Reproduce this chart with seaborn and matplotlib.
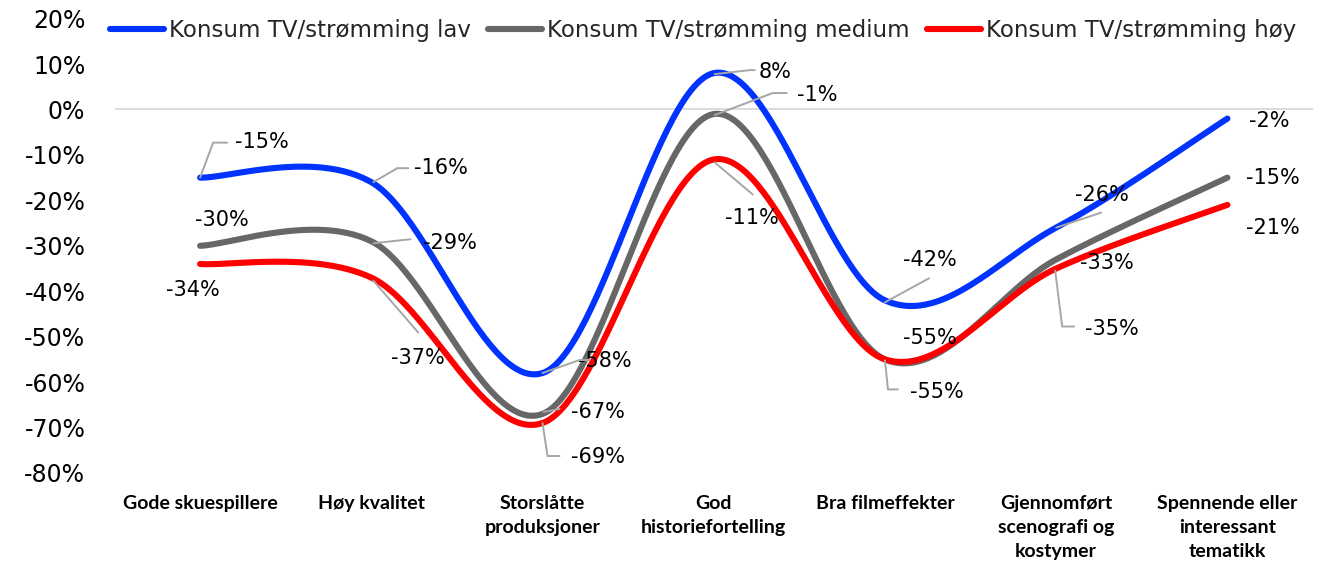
import numpy as np
import pandas as pd
import matplotlib
matplotlib.use("Agg")
import matplotlib.pyplot as plt
from matplotlib.lines import Line2D
from matplotlib.transforms import IdentityTransform
import seaborn as sns

# ---- data -------------------------------------------------------------
categories = [
    "Gode skuespillere",
    "Høy kvalitet",
    "Storslåtte\nproduksjoner",
    "God\nhistoriefortelling",
    "Bra filmeffekter",
    "Gjennomført\nscenografi og\nkostymer",
    "Spennende eller\ninteressant\ntematikk",
]
series_names = [
    "Konsum TV/strømming lav",
    "Konsum TV/strømming medium",
    "Konsum TV/strømming høy",
]
lav = [-15, -16, -58, 8, -42, -26, -2]
medium = [-30, -29, -67, -1, -55, -33, -15]
hoy = [-34, -37, -69, -11, -55, -35, -21]
y_ticks = [20, 10, 0, -10, -20, -30, -40, -50, -60, -70, -80]

series_values = [lav, medium, hoy]
colors = ["#0033FF", "#676767", "#FF0000"]

# label placement: (text offset), [leader vertices] in pixels, y downwards
label_layout = [
    [  # lav
        ((62, -36), [(0, 0), (13, -35), (27, -35)]),
        ((70, -14), [(2, 0), (26, -14), (37, -14)]),
        ((62, -12), [(0, 0), (37, -13), (47, -13)]),
        ((61, -1), [(1, 1), (36, -3), (41, -3)]),
        ((45, -40), [(0, 2), (44, -22)]),
        ((46, -33), [(0, 0), (45, -15)]),
        ((42, 2), None),
    ],
    [  # medium
        ((22, -26), None),
        ((79, 2), [(2, 2), (39, -2)]),
        ((55, -2), [(1, -2), (17, -5)]),
        ((103, -19), [(1, 1), (59, -21), (73, -21)]),
        ((45, -21), None),
        ((51, 4), None),
        ((45, 0), None),
    ],
    [  # høy
        ((-7, 26), None),
        ((47, 80), [(2, 3), (47, 55)]),
        ((55, 34), [(0, 0), (5, 33), (17, 33)]),
        ((38, 59), [(1, 3), (39, 35)]),
        ((52, 33), [(0, 1), (3, 30), (13, 30)]),
        ((56, 60), [(-1, 2), (6, 58), (18, 58)]),
        ((45, 23), None),
    ],
]


def smooth_curve(values, n=60):
    """Bezier smoothing through the points (Catmull-Rom style control points)."""
    p = np.column_stack([np.arange(len(values)), values]).astype(float)
    ext = np.vstack([p[0], p, p[-1]])
    t = np.linspace(0, 1, n)[:, None]
    parts = []
    for i in range(len(p) - 1):
        p0, p3 = p[i], p[i + 1]
        c1 = p0 + (ext[i + 2] - ext[i]) / 6
        c2 = p3 - (ext[i + 3] - ext[i + 1]) / 6
        seg = ((1 - t) ** 3) * p0 + 3 * ((1 - t) ** 2) * t * c1 \
            + 3 * (1 - t) * t ** 2 * c2 + t ** 3 * p3
        parts.append(seg if i == 0 else seg[1:])
    return np.vstack(parts)


frames = []
for name, vals in zip(series_names, series_values):
    xy = smooth_curve(vals)
    frames.append(pd.DataFrame({"x": xy[:, 0], "y": xy[:, 1], "serie": name}))
df = pd.concat(frames, ignore_index=True)

# ---- figure -----------------------------------------------------------
sns.set_theme(style="white")
plt.rcParams["font.family"] = ["DejaVu Sans"]

W, H = 1327, 565
fig = plt.figure(figsize=(W / 100, H / 100), dpi=100)
ax = fig.add_axes([114.5 / W, 1 - 473 / H, (1313 - 114.5) / W, (473 - 18.6) / H])

ax.axhline(0, color="#d9d9d9", lw=1.3, zorder=0)

sns.lineplot(
    data=df, x="x", y="y", hue="serie", hue_order=series_names,
    palette=dict(zip(series_names, colors)), sort=False, estimator=None,
    linewidth=4.4, legend=False, ax=ax,
    solid_capstyle="round", solid_joinstyle="round",
)

ax.set_xlim(-0.5, len(categories) - 0.5)
ax.set_ylim(-80, 20)
for s in ax.spines.values():
    s.set_visible(False)
ax.grid(False)
ax.set_xlabel("")
ax.set_ylabel("")

ax.set_yticks(y_ticks)
ax.set_yticklabels([f"{v}%" for v in y_ticks], fontsize=17, color="#000000")
ax.set_xticks(range(len(categories)))
ax.set_xticklabels(categories, fontsize=14, fontweight="bold",
                   family="Lato", color="#000000", linespacing=1.5)
ax.tick_params(axis="y", length=0, pad=21)
ax.tick_params(axis="x", length=0, pad=16)
for lbl in ax.get_xticklabels():
    lbl.set_verticalalignment("top")

# ---- data labels with leader lines ------------------------------------
for vals, layout in zip(series_values, label_layout):
    for i, (v, (off, leader)) in enumerate(zip(vals, layout)):
        ax.annotate(f"{v}%", xy=(i, v), xytext=(off[0], -off[1]),
                    textcoords="offset pixels", ha="center", va="center",
                    fontsize=15, color="#000000", zorder=5)
        if leader:
            px, py = ax.transData.transform((i, v))
            lx = [px + dx for dx, dy in leader]
            ly = [py - dy for dx, dy in leader]
            fig.add_artist(Line2D(lx, ly, transform=IdentityTransform(),
                                  color="#a6a6a6", lw=1.4, zorder=4))

# ---- legend -----------------------------------------------------------
handles = [Line2D([0], [0], color=c, lw=4.4, solid_capstyle="round") for c in colors]
fig.legend(handles, series_names, loc="upper left",
           bbox_to_anchor=(110 / W, 1 - 19 / H), ncol=3, frameon=False,
           fontsize=16.5, handlelength=2.36, handletextpad=0.22,
           columnspacing=0.75, borderaxespad=0, borderpad=0)

fig.savefig("out.png", dpi=100)
